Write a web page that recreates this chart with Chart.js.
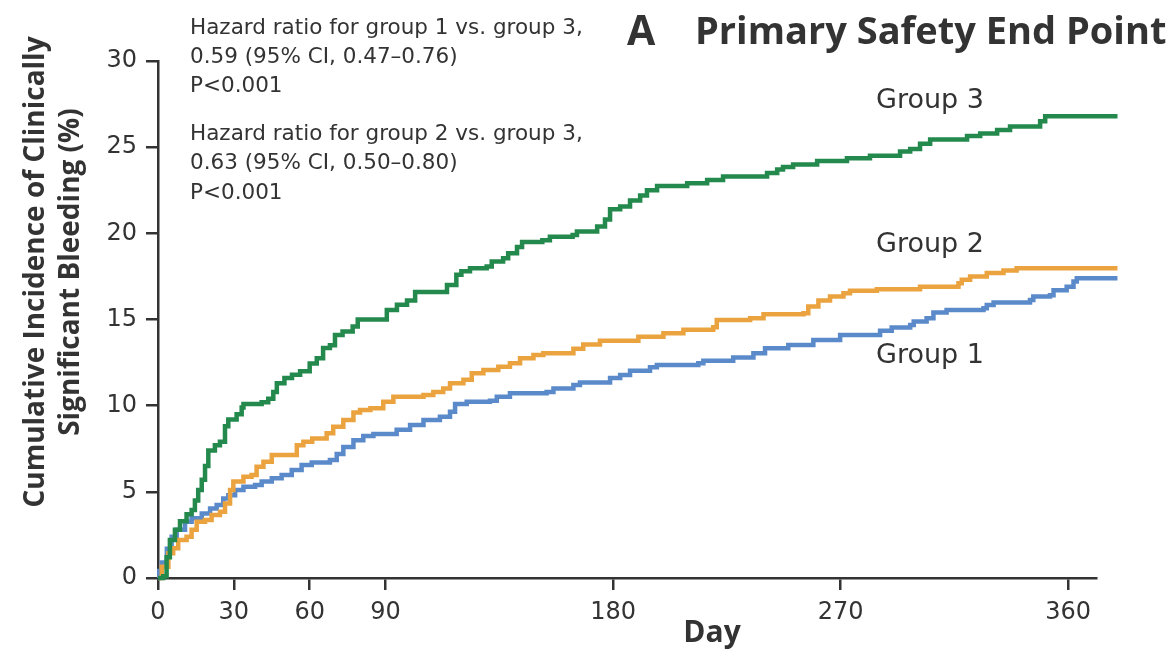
<!DOCTYPE html>
<html>
<head>
<meta charset="utf-8">
<script src="https://cdn.jsdelivr.net/npm/chart.js@4.4.1/dist/chart.umd.min.js"></script>
<style>
  html, body { margin: 0; padding: 0; background: #fff; }
  #wrap { width: 1176px; height: 655px; }
</style>
</head>
<body>
<div id="wrap"><canvas id="km-chart" width="1176" height="655"></canvas></div>
<script>
'use strict';

// ******** DATA **************
// each pair: day of the step, cumulative incidence (%) from that day on

let group1Days = [0, 0.5, 1.5, 3.5, 5.4, 7.4, 10.7, 13.3, 17.3, 20.6, 23.2, 25.8, 27.8, 30.5, 33.8, 38.4, 41, 45, 48.9, 52.9,
  56.8, 60.8, 68, 70.7, 73.3, 77.3, 81.2, 85.2, 94.4, 99.7, 105, 111.5, 115.5, 117.5, 122.1, 131.3, 134, 139.2, 153.7, 156.4,
  164.3, 166.9, 178.8, 182.8, 186.7, 194.6, 197.3, 213.7, 215.7, 227.5, 235.5, 240.1, 249.3, 259.2, 269.8, 285.6, 290.2, 297.5,
  298.9, 304, 306.7, 311.9, 326.5, 327.8, 330.5, 344.9, 346.2, 352.8, 354.2, 359.4, 362.1, 363.4, 379.5];
let group1Values = [0, 0.4, 0.9, 1.7, 2.4, 2.8, 3.27, 3.46, 3.75, 4.04, 4.24, 4.62, 4.8, 5.1, 5.3, 5.4, 5.6, 5.79, 5.98, 6.27,
  6.56, 6.7, 6.85, 7.2, 7.6, 8.0, 8.24, 8.36, 8.6, 8.88, 9.17, 9.36, 9.65, 10.1, 10.23, 10.29, 10.52, 10.72, 10.8, 11.0,
  11.2, 11.35, 11.6, 11.78, 12.03, 12.23, 12.36, 12.46, 12.61, 12.8, 13.04, 13.33, 13.52, 13.81, 14.1, 14.34, 14.53, 14.68,
  14.88, 15.07, 15.4, 15.55, 15.65, 15.84, 15.98, 16.13, 16.33, 16.4, 16.7, 16.9, 17.2, 17.4, 17.4];

let group2Days = [0, 1.5, 4.1, 6, 8, 11.3, 13.3, 15.3, 18.6, 21.2, 24.5, 26.5, 28.5, 29.8, 33.8, 37, 39, 41.7, 45, 54.9,
  57.5, 61, 66.7, 69.3, 73.3, 77.3, 79.9, 84, 89.1, 93.1, 105, 108.9, 112.8, 115.5, 120.8, 124.1, 128.7, 134.6, 139.2, 143.2,
  148.5, 152.4, 164.3, 168.2, 174.8, 190, 199.9, 207.8, 219.6, 221, 234.2, 239.5, 255.3, 257.2, 261.2, 265.8, 271.1, 273.7,
  284.3, 301.4, 316.6, 317.9, 321.2, 327.8, 334.4, 339.6, 379.5];
let group2Values = [0, 0.66, 1.43, 1.72, 2.2, 2.4, 2.8, 3.27, 3.37, 3.66, 3.85, 4.33, 5.1, 5.6, 5.88, 5.98, 6.46, 6.75, 7.14, 7.7,
  7.9, 8.1, 8.4, 8.78, 9.17, 9.6, 9.75, 9.85, 10.23, 10.52, 10.62, 10.8, 11.0, 11.3, 11.5, 11.88, 12.07, 12.26, 12.46, 12.75,
  12.94, 13.04, 13.3, 13.55, 13.77, 14.0, 14.2, 14.4, 14.55, 14.97, 15.07, 15.3, 15.36, 15.75, 16.1, 16.33, 16.52, 16.67,
  16.76, 16.9, 17.1, 17.3, 17.5, 17.7, 17.85, 17.97, 17.97];

let group3Days = [0, 2.1, 3.4, 4.7, 6.7, 8.7, 11.3, 13.3, 14.6, 15.9, 17.3, 18.6, 19.9, 22.5, 24.5, 26.5, 27.8, 31.1, 33.1, 33.8,
  41, 43.6, 45.6, 47, 50, 53, 56.2, 60, 62.8, 65.3, 68, 70, 73, 77, 79, 90.5, 94.5, 98.5, 101.7, 114.3,
  118, 120, 123.4, 130, 132, 136.5, 138.5, 142, 144, 152, 155, 164, 165.7, 173.7, 176.8, 178.8, 182.8, 186.7, 190.7, 193.4,
  197.4, 209.3, 217.2, 223.5, 240.9, 244.9, 247.2, 251.2, 260.7, 272.5, 281.6, 293.5, 297.5, 301.4, 305.4, 320, 325.2, 331.9,
  337, 348.9, 350.9, 379.5];
let group3Values = [0, 0.1, 1.2, 2.2, 2.8, 3.3, 3.7, 3.95, 4.5, 5.1, 5.7, 6.5, 7.4, 7.7, 7.9, 8.8, 9.2, 9.5, 9.9, 10.1,
  10.2, 10.4, 10.8, 11.3, 11.6, 11.8, 12.0, 12.45, 12.75, 13.35, 13.5, 14.1, 14.3, 14.6, 15.0, 15.55, 15.85, 16.1, 16.6, 17.0,
  17.6, 17.8, 17.97, 18.07, 18.36, 18.55, 18.85, 19.2, 19.5, 19.6, 19.8, 19.9, 20.1, 20.4, 20.8, 21.4, 21.55, 21.9, 22.2, 22.5,
  22.75, 22.9, 23.1, 23.3, 23.5, 23.7, 23.85, 24.0, 24.2, 24.35, 24.5, 24.75, 24.9, 25.2, 25.45, 25.65, 25.8, 26.0,
  26.2, 26.5, 26.8, 26.8];

let xTicks = [0, 30, 60, 90, 180, 270, 360];
let yTicks = [0, 5, 10, 15, 20, 25, 30];
let dayMax = 371;

let groupNames = ['Group 1', 'Group 2', 'Group 3'];
let hazardLines = [
  'Hazard ratio for group 1 vs. group 3,',
  '0.59 (95% CI, 0.47\u20130.76)',
  'P<0.001',
  'Hazard ratio for group 2 vs. group 3,',
  '0.63 (95% CI, 0.50\u20130.80)',
  'P<0.001'
];

// ********* HELPERS *************
function toPoints(days, values) {
  let pts = [];
  for (let i = 0; i < days.length; i++) {
    pts.push({ x: days[i], y: values[i] });
  }
  return pts;
}

function stepSeries(label, days, values, color) {
  return {
    label: label,
    data: toPoints(days, values),
    borderColor: color,
    borderWidth: 4.5,
    stepped: true,
    pointRadius: 0,
    fill: false,
    clip: false
  };
}

let textColor = '#333333';
let axisColor = '#333333';
let plainFont = '"DejaVu Sans", sans-serif';
let boldFont = '"Open Sans", "DejaVu Sans", sans-serif';

// ********* TEXT PLUGIN **********
// hazard ratios, panel heading, curve names and axis titles
let textPlugin = {
  id: 'textPlugin',
  afterDraw(chart) {
    let ctx = chart.ctx;
    let xs = chart.scales.x;
    let ys = chart.scales.y;
    ctx.save();
    ctx.fillStyle = textColor;
    ctx.textBaseline = 'middle';

    ctx.font = '21.5px ' + plainFont;
    ctx.textAlign = 'left';
    let lineY = [28, 57, 86, 134, 163, 193];
    hazardLines.forEach(function (t, i) {
      ctx.fillText(t, 190, lineY[i]);
    });

    ctx.font = 'bold 41px ' + boldFont;
    ctx.fillText('A', 627, 33);
    ctx.font = 'bold 38px ' + boldFont;
    ctx.fillText('Primary Safety End Point', 695, 33);

    ctx.font = '27px ' + plainFont;
    let labelDay = 284;
    let labelVals = [12.9, 19.3, 27.7];
    groupNames.forEach(function (name, i) {
      ctx.fillText(name, xs.getPixelForValue(labelDay), ys.getPixelForValue(labelVals[i]));
    });

    ctx.font = 'bold 30px ' + boldFont;
    ctx.textAlign = 'center';
    ctx.fillText('Day', 712, 633);

    ctx.save();
    ctx.translate(36, 272);
    ctx.rotate(-Math.PI / 2);
    ctx.font = 'bold 28px ' + boldFont;
    ctx.fillText('Cumulative Incidence of Clinically', 0, 0);
    ctx.fillText('Significant Bleeding (%)', 0, 35);
    ctx.restore();

    ctx.restore();
  }
};

// ********* CHART *************
let canvasElem = document.getElementById('km-chart');

let axisGrid = {
  drawOnChartArea: false,
  drawTicks: true,
  tickLength: 12,
  tickColor: axisColor,
  tickWidth: 2.5,
  color: axisColor,
  lineWidth: 2.5
};

new Chart(canvasElem, {
  type: 'line',
  data: {
    datasets: [
      stepSeries(groupNames[2], group3Days, group3Values, '#23894c'),
      stepSeries(groupNames[1], group2Days, group2Values, '#eaa33f'),
      stepSeries(groupNames[0], group1Days, group1Values, '#5b8aca')
    ]
  },
  options: {
    responsive: false,
    animation: false,
    events: [],
    layout: { padding: { top: 61, right: 80, left: 0, bottom: 0 } },
    plugins: {
      legend: { display: false },
      tooltip: { enabled: false }
    },
    scales: {
      x: {
        type: 'linear',
        min: 0,
        max: dayMax,
        afterBuildTicks: function (scale) {
          scale.ticks = xTicks.map(function (v) { return { value: v }; });
        },
        afterFit: function (scale) { scale.height = 77; },
        grid: axisGrid,
        border: { display: true, color: axisColor, width: 2.5 },
        ticks: {
          color: textColor,
          padding: 8,
          maxRotation: 0,
          font: { family: plainFont, size: 24 }
        }
      },
      y: {
        min: 0,
        max: 30,
        afterBuildTicks: function (scale) {
          scale.ticks = yTicks.map(function (v) { return { value: v }; });
        },
        afterFit: function (scale) { scale.width = 158; },
        grid: axisGrid,
        border: { display: true, color: axisColor, width: 2.5 },
        ticks: {
          color: textColor,
          padding: 9,
          font: { family: plainFont, size: 24 }
        }
      }
    }
  },
  plugins: [textPlugin]
});
</script>
</body>
</html>
